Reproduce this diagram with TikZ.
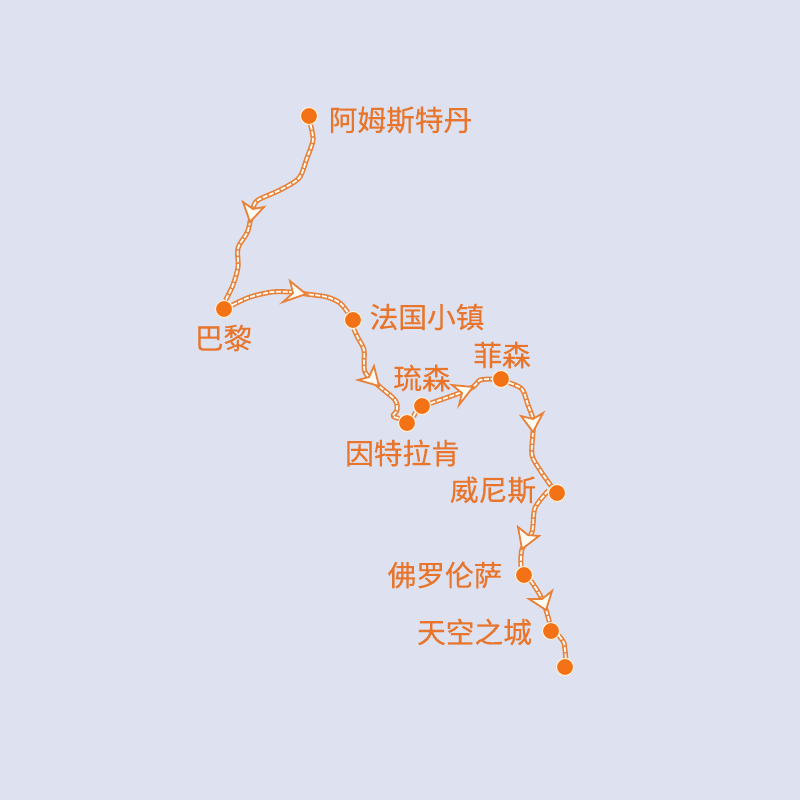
\documentclass[tikz,border=0pt]{standalone}
\usepackage{fontspec}
\setmainfont{Noto Sans CJK SC}[FakeBold=0.25]
\usetikzlibrary{backgrounds}
\definecolor{bgc}{HTML}{DEE2F0}
\definecolor{dotc}{HTML}{F47216}
\definecolor{ringc}{HTML}{FFF3DC}
\definecolor{linec}{HTML}{E8813A}
\definecolor{txtc}{HTML}{E8752B}
\definecolor{headc}{HTML}{FFFBF2}
\tikzset{
  stop/.style={circle,fill=dotc,draw=ringc,line width=1pt,minimum size=17pt,inner sep=0pt},
  place/.style={text=txtc,inner sep=0pt,font=\fontsize{28.7}{30}\selectfont},
  route/.style={draw=linec,line width=5pt,line join=round,postaction={draw=headc,line width=1.8pt,dash pattern=on 5pt off 1.6pt}},
  headmark/.style={fill=headc,draw=linec,line width=1.8pt,line join=miter}
}
\begin{document}
\begin{tikzpicture}[x=1pt,y=-1pt]
\useasboundingbox (0,0) rectangle (800,800);
% stops
\node[stop] (ams) at (309,116) {};
\node[stop] (par) at (224,309) {};
\node[stop] (fra) at (353,320) {};
\node[stop] (int) at (407,423) {};
\node[stop] (luc) at (422,406) {};
\node[stop] (fus) at (501,379) {};
\node[stop] (ven) at (557,493) {};
\node[stop] (flo) at (524,575) {};
\node[stop] (sky) at (551,631) {};
\node[stop] (end) at (565,667) {};
% labels
\node[place] (lams) at (400.5,120) {阿姆斯特丹};
\node[place] (lpar) at (223.5,338) {巴黎};
\node[place] (lfra) at (427,317) {法国小镇};
\node[place] (lluc) at (422,378) {琉森};
\node[place] (lfus) at (502,355) {菲森};
\node[place] (lint) at (402.5,453) {因特拉肯};
\node[place] (lven) at (493,490) {威尼斯};
\node[place] (lflo) at (445,575) {佛罗伦萨};
\node[place] (lsky) at (474.5,632) {天空之城};
\begin{scope}[on background layer]
\fill[bgc] (0,0) rectangle (800,800);
\draw[route] plot[smooth,tension=.5] coordinates {(ams.-80) (313,140) (307,158) (299,178) (280,190) (258,200) (253,208) (250,222) (247,233) (238,248) (238,267) (233,285) (par.80)};
\draw[route] plot[smooth,tension=.5] coordinates {(par.25) (250,297) (272,292) (290,292) (306,294) (327,297) (340,303) (fra.125)};
\draw[route] plot[smooth,tension=.5] coordinates {(fra.-85) (358,338) (364,350) (365,372) (379,386) (395,400) (397,410) (393,416) (int.150)};
\draw[route] (int.45) -- (luc.-135);
\draw[route] plot[smooth,tension=.4] coordinates {(luc.18) (457,394) (473,387) (480,380) (fus.180)};
\draw[route] plot[smooth,tension=.5] coordinates {(fus.-25) (522,389) (528,405) (533,419) (533,432) (532,455) (540,470) (ven.130)};
\draw[route] plot[smooth,tension=.5] coordinates {(ven.165) (535,508) (532,532) (522,549) (flo.110)};
\draw[route] plot[smooth,tension=.4] coordinates {(flo.-40) (540,595) (546,610) (sky.100)};
\draw[route] plot[smooth,tension=.3] coordinates {(sky.-30) (564,643) (end.85)};
\end{scope}
% arrowheads
\draw[headmark] (250,222) -- (243,202) -- (253,209) -- (264,207) -- cycle;
\draw[headmark] (306,294) -- (290,281) -- (293,293) -- (283,302) -- cycle;
\draw[headmark] (379,386) -- (374,366) -- (369,377) -- (358,380) -- cycle;
\draw[headmark] (473,387) -- (452,385) -- (462,393) -- (459,405) -- cycle;
\draw[headmark] (533,432) -- (521,416) -- (533,419) -- (543,413) -- cycle;
\draw[headmark] (522,549) -- (518,527) -- (528,535) -- (539,536) -- cycle;
\draw[headmark] (546,610) -- (529,599) -- (542,599) -- (552,591) -- cycle;
\end{tikzpicture}
\end{document}
